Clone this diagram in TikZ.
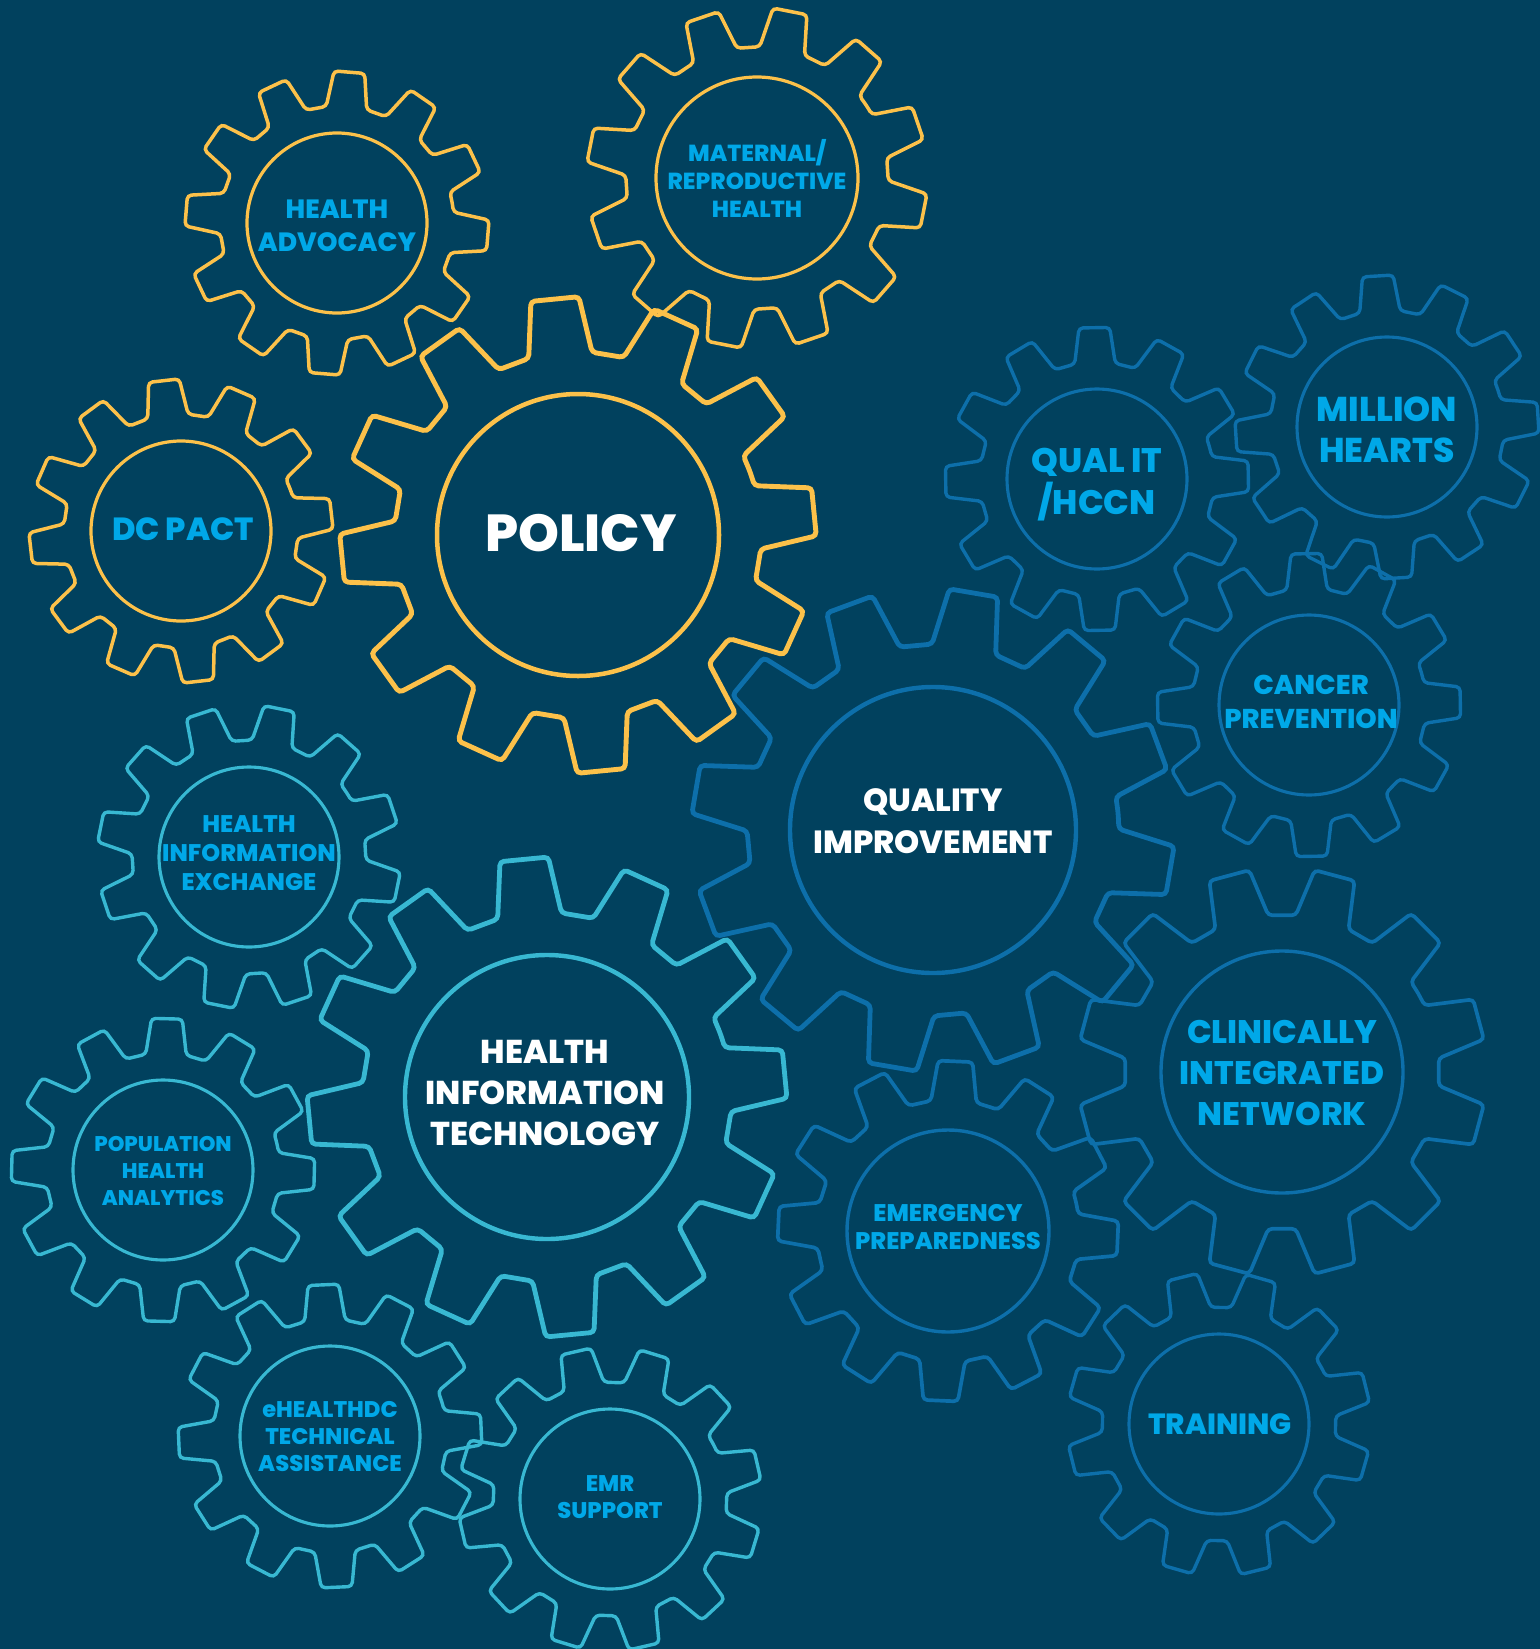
\documentclass[tikz,border=0pt]{standalone}
\usepackage{fontspec}
\setmainfont{Poppins}[BoldFont={Poppins ExtraBold}]
\definecolor{bg}{RGB}{1,65,94}
\definecolor{gold}{RGB}{252,193,74}
\definecolor{steel}{RGB}{13,111,170}
\definecolor{aqua}{RGB}{56,184,210}
\definecolor{sky}{RGB}{0,168,232}

% one gear: centre x, centre y, hub radius, tooth phase (deg), outline style
\newcommand{\gearwheel}[5]{%
  \begin{scope}[shift={(#1,#2)}]
    \draw[#5, line width=0.92*\pgflinewidth] (0,0) circle[radius=#3];
    \draw[#5, rounded corners=2pt]
      ({-(#4)-15}:{1.3*#3})
      \foreach \k in {0,...,11}{
        -- ({-(#4)+30*\k-10}:{1.3*#3})
        -- ({-(#4)+30*\k-5.8}:{1.69*#3})
        -- ({-(#4)+30*\k+5.8}:{1.69*#3})
        -- ({-(#4)+30*\k+10}:{1.3*#3})
      } -- cycle;
  \end{scope}}

\tikzset{
  goldgear/.style={draw=gold, line width=1.75pt},
  goldbig/.style={draw=gold, line width=2.45pt},
  steelgear/.style={draw=steel, line width=1.7pt},
  steelmid/.style={draw=steel, line width=1.85pt},
  steelbig/.style={draw=steel, line width=2.4pt},
  aquagear/.style={draw=aqua, line width=1.7pt},
  aquabig/.style={draw=aqua, line width=2.4pt},
  smalltxt/.style={text=sky, align=center, inner sep=0pt},
  bigtxt/.style={text=white, align=center, inner sep=0pt},
}

\begin{document}
\begin{tikzpicture}[x=0.5pt, y=-0.5pt]
  \fill[bg] (0,0) rectangle (1540,1649);
  \useasboundingbox (0,0) rectangle (1540,1649);

  % policy cluster
  \gearwheel{337}{223}{90}{-4.7}{goldgear}
  \gearwheel{757}{178}{101}{18.8}{goldgear}
  \gearwheel{578}{535}{141}{5.6}{goldbig}
  \gearwheel{181}{531}{90}{6.5}{goldgear}

  % quality cluster
  \gearwheel{1097}{479}{90}{1}{steelgear}
  \gearwheel{1387}{427}{90}{3.5}{steelgear}
  \gearwheel{1309}{705}{90}{1}{steelgear}
  \gearwheel{933}{830}{143}{-9.7}{steelbig}
  \gearwheel{948}{1231}{101}{-2.5}{steelmid}
  \gearwheel{1282}{1072}{121}{15}{steelmid}
  \gearwheel{1219}{1424}{90}{14}{steelgear}

  % health information technology cluster
  \gearwheel{249}{857}{90}{18.5}{aquagear}
  \gearwheel{547}{1097}{142}{5.5}{aquabig}
  \gearwheel{163}{1170}{90}{-1.5}{aquagear}
  \gearwheel{330}{1436}{90}{2.5}{aquagear}
  \gearwheel{610}{1499}{90}{13}{aquagear}

  % labels
  \node[smalltxt, font=\bfseries\fontsize{13.2}{16.5}\selectfont] (healthadvocacy) at (337,226) {HEALTH\\ADVOCACY};
  \node[smalltxt, font=\bfseries\fontsize{11.6}{14}\selectfont] (maternal) at (757,178) {MATERNAL/\\REPRODUCTIVE\\HEALTH};
  \node[bigtxt, font=\bfseries\fontsize{26}{30}\selectfont] (policy) at (581,533) {POLICY};
  \node[smalltxt, font=\bfseries\fontsize{16}{18}\selectfont] (dcpact) at (183,529) {DC PACT};

  \node[smalltxt, font=\bfseries\fontsize{17}{21}\selectfont] (qualit) at (1097,485) {QUAL IT\\/HCCN};
  \node[smalltxt, font=\bfseries\fontsize{17.2}{20.5}\selectfont] (millionhearts) at (1387,430) {MILLION\\HEARTS};
  \node[smalltxt, font=\bfseries\fontsize{13.6}{17}\selectfont] (cancer) at (1311,702) {CANCER\\PREVENTION};
  \node[bigtxt, font=\bfseries\fontsize{16}{21}\selectfont] (quality) at (933,821) {QUALITY\\IMPROVEMENT};
  \node[smalltxt, font=\bfseries\fontsize{12}{14}\selectfont] (emergency) at (948,1227) {EMERGENCY\\PREPAREDNESS};
  \node[smalltxt, font=\bfseries\fontsize{16.3}{20.5}\selectfont] (cin) at (1282,1073) {CLINICALLY\\INTEGRATED\\NETWORK};
  \node[smalltxt, font=\bfseries\fontsize{14.6}{18}\selectfont] (training) at (1220,1424) {TRAINING};

  \node[smalltxt, font=\bfseries\fontsize{12}{14.5}\selectfont] (hie) at (249,853) {HEALTH\\INFORMATION\\EXCHANGE};
  \node[bigtxt, font=\bfseries\fontsize{16.5}{20.3}\selectfont] (hit) at (545,1093) {HEALTH\\INFORMATION\\TECHNOLOGY};
  \node[smalltxt, font=\bfseries\fontsize{10.6}{13.3}\selectfont] (pophealth) at (163,1171) {POPULATION\\HEALTH\\ANALYTICS};
  \node[smalltxt, font=\bfseries\fontsize{11.3}{13.5}\selectfont] (ehealthdc) at (330,1437) {eHEALTHDC\\TECHNICAL\\ASSISTANCE};
  \node[smalltxt, font=\bfseries\fontsize{11.3}{13.5}\selectfont] (emr) at (610,1497) {EMR\\SUPPORT};
\end{tikzpicture}
\end{document}
